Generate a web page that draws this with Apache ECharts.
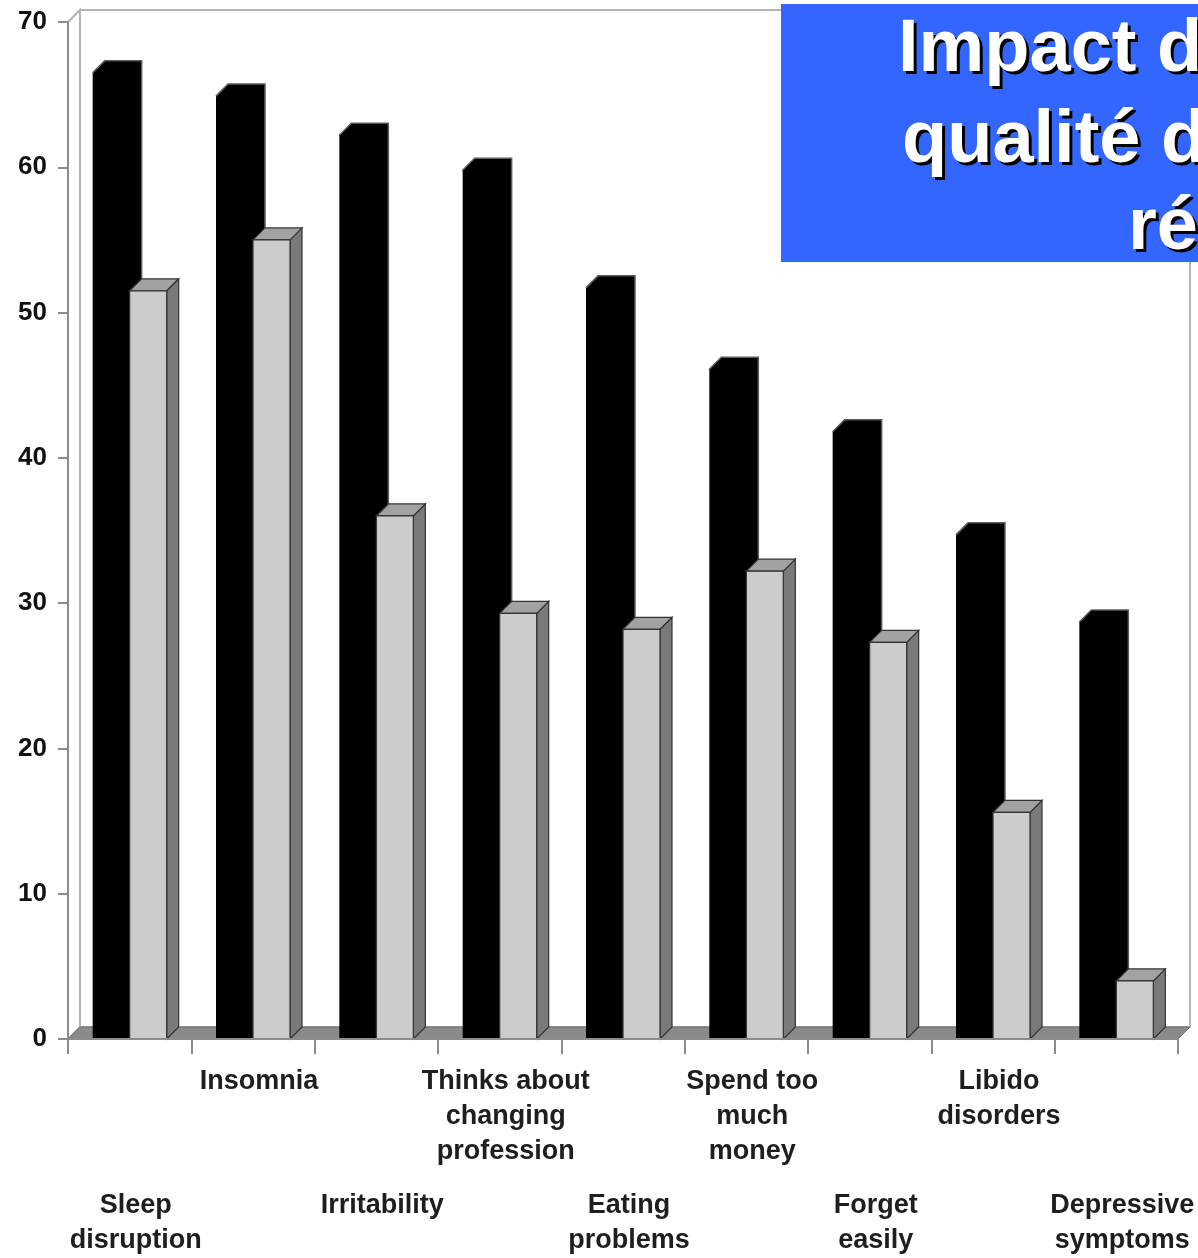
<!DOCTYPE html>
<html>
<head>
<meta charset="utf-8">
<script src="https://cdn.jsdelivr.net/npm/echarts@6/dist/echarts.min.js"></script>
<style>
  html, body { margin: 0; padding: 0; background: #ffffff; }
  #chart { width: 1198px; height: 1258px; }
</style>
</head>
<body>
<div id="chart"></div>
<script>
// Symptom categories (line breaks as printed under the axis)
const categories = [
  'Sleep\ndisruption',
  'Insomnia',
  'Irritability',
  'Thinks about\nchanging\nprofession',
  'Eating\nproblems',
  'Spend too\nmuch\nmoney',
  'Forget\neasily',
  'Libido\ndisorders',
  'Depressive\nsymptoms'
];

// Percentages, two groups
const blackValues = [66.5, 64.9, 62.2, 59.8, 51.7, 46.1, 41.8, 34.7, 28.7];
const greyValues  = [51.5, 55.0, 36.0, 29.3, 28.2, 32.2, 27.3, 15.6, 4.0];

// Value axis range
const yMin = 0;
const yMax = 70;
const yStep = 10;

// Title lines shown in the banner
const titleLines = ['Impact d', 'qualité d', 'ré'];

// Pseudo-3D depth of the plot box (pixels)
const DX = 12;
const DY = 12;
const FONT = '"Liberation Sans", Arial, Helvetica, sans-serif';

const chart = echarts.init(document.getElementById('chart'), null, { renderer: 'canvas' });

// Floor, back wall and left wall of the 3D box
function frameItem(params, api) {
  const cs = params.coordSys;
  const x0 = cs.x, x1 = cs.x + cs.width;
  const yT = cs.y, yB = cs.y + cs.height;
  const edge = '#b4b4b4';
  return {
    type: 'group',
    children: [
      {
        type: 'rect',
        shape: { x: x0 + DX, y: yT - DY, width: x1 - x0, height: yB - yT },
        style: { fill: '#ffffff', stroke: edge, lineWidth: 2 }
      },
      {
        type: 'polygon',
        shape: { points: [[x0, yT], [x0 + DX, yT - DY], [x0 + DX, yB - DY], [x0, yB]] },
        style: { fill: '#ffffff', stroke: edge, lineWidth: 2 }
      },
      {
        type: 'polygon',
        shape: { points: [[x0, yB], [x1, yB], [x1 + DX, yB - DY], [x0 + DX, yB - DY]] },
        style: { fill: '#8a8a8a', stroke: '#6e6e6e', lineWidth: 1 }
      }
    ]
  };
}

function barGeometry(api, side) {
  const idx = api.value(0);
  const val = api.value(1);
  const band = api.size([1, 0])[0];
  const w = band * 0.3;
  const top = api.coord([idx, val]);
  const base = api.coord([idx, 0]);
  const x0 = side < 0 ? top[0] - w : top[0];
  return { x0: x0, x1: x0 + w, yT: top[1], yB: base[1] };
}

// Solid black columns (left of each pair)
function blackItem(params, api) {
  const g = barGeometry(api, -1);
  return {
    type: 'group',
    children: [
      {
        type: 'polygon',
        shape: {
          points: [
            [g.x0, g.yB], [g.x0, g.yT], [g.x0 + DX, g.yT - DY],
            [g.x1 + DX, g.yT - DY], [g.x1 + DX, g.yB - DY], [g.x1, g.yB]
          ]
        },
        style: { fill: '#000000' }
      },
      {
        type: 'polyline',
        shape: {
          points: [[g.x0, g.yT], [g.x0 + DX, g.yT - DY], [g.x1 + DX, g.yT - DY], [g.x1 + DX, g.yB - DY]]
        },
        style: { stroke: '#5c5c5c', lineWidth: 1.5, fill: null }
      }
    ]
  };
}

// Light grey columns (right of each pair) with visible top and side faces
function greyItem(params, api) {
  const g = barGeometry(api, 1);
  const line = '#333333';
  return {
    type: 'group',
    children: [
      {
        type: 'polygon',
        shape: { points: [[g.x1, g.yT], [g.x1 + DX, g.yT - DY], [g.x1 + DX, g.yB - DY], [g.x1, g.yB]] },
        style: { fill: '#7a7a7a', stroke: line, lineWidth: 1.2 }
      },
      {
        type: 'polygon',
        shape: { points: [[g.x0, g.yT], [g.x0 + DX, g.yT - DY], [g.x1 + DX, g.yT - DY], [g.x1, g.yT]] },
        style: { fill: '#a2a2a2', stroke: line, lineWidth: 1.2 }
      },
      {
        type: 'rect',
        shape: { x: g.x0, y: g.yT, width: g.x1 - g.x0, height: g.yB - g.yT },
        style: { fill: '#cccccc', stroke: line, lineWidth: 1.2 }
      }
    ]
  };
}

const labelStyle = {
  fontFamily: FONT,
  fontSize: 27,
  fontWeight: 'bold',
  color: '#1e1e1e',
  lineHeight: 35,
  align: 'center',
  padding: [0, 0, 0, 12]
};

// Banner title text, white with a hard black drop shadow
function titleText(text, x, y) {
  return {
    type: 'text',
    z: 101,
    style: {
      text: text, x: x, y: y,
      verticalAlign: 'middle', align: 'left',
      font: 'bold 74px ' + FONT,
      fill: '#ffffff',
      textShadowColor: '#000000', textShadowOffsetX: 3, textShadowOffsetY: 3, textShadowBlur: 0.5,
      shadowColor: '#000000', shadowOffsetX: 3, shadowOffsetY: 3, shadowBlur: 0.5
    }
  };
}

const option = {
  backgroundColor: '#ffffff',
  animation: false,
  grid: { left: 68, right: 20, top: 22, bottom: 215, containLabel: false },
  xAxis: [
    {
      type: 'category',
      data: categories,
      position: 'bottom',
      boundaryGap: true,
      z: 10,
      axisLine: { show: true, lineStyle: { color: '#8c8c8c', width: 2 } },
      axisTick: { show: true, interval: 0, length: 15, lineStyle: { color: '#8c8c8c', width: 2 } },
      axisLabel: Object.assign({
        interval: function (i) { return i % 2 === 1; },
        margin: 25
      }, labelStyle),
      splitLine: { show: false }
    },
    {
      type: 'category',
      data: categories,
      position: 'bottom',
      boundaryGap: true,
      axisLine: { show: false },
      axisTick: { show: false },
      axisLabel: Object.assign({
        interval: function (i) { return i % 2 === 0; },
        margin: 149
      }, labelStyle),
      splitLine: { show: false }
    }
  ],
  yAxis: {
    type: 'value',
    min: yMin,
    max: yMax,
    interval: yStep,
    z: 10,
    axisLine: { show: true, lineStyle: { color: '#8c8c8c', width: 2 } },
    axisTick: { show: true, length: 10, lineStyle: { color: '#8c8c8c', width: 2 } },
    axisLabel: {
      fontFamily: FONT,
      fontSize: 26,
      fontWeight: 'bold',
      color: '#111111',
      margin: 21,
      padding: [0, 0, 6, 0]
    },
    splitLine: { show: false }
  },
  series: [
    {
      name: 'frame',
      type: 'custom',
      xAxisIndex: 0,
      yAxisIndex: 0,
      renderItem: frameItem,
      data: [[0, 0]],
      silent: true,
      z: 1
    },
    {
      name: 'Group A',
      type: 'custom',
      xAxisIndex: 0,
      yAxisIndex: 0,
      renderItem: blackItem,
      encode: { x: 0, y: 1 },
      data: blackValues.map(function (v, i) { return [i, v]; }),
      z: 2
    },
    {
      name: 'Group B',
      type: 'custom',
      xAxisIndex: 0,
      yAxisIndex: 0,
      renderItem: greyItem,
      encode: { x: 0, y: 1 },
      data: greyValues.map(function (v, i) { return [i, v]; }),
      z: 3
    }
  ],
  graphic: [
    {
      type: 'rect',
      z: 100,
      shape: { x: 781, y: 4, width: 430, height: 258 },
      style: { fill: '#3366ff' }
    },
    titleText(titleLines[0], 898, 51),
    titleText(titleLines[1], 902, 142),
    titleText(titleLines[2], 1128, 229)
  ]
};

chart.setOption(option);
</script>
</body>
</html>
